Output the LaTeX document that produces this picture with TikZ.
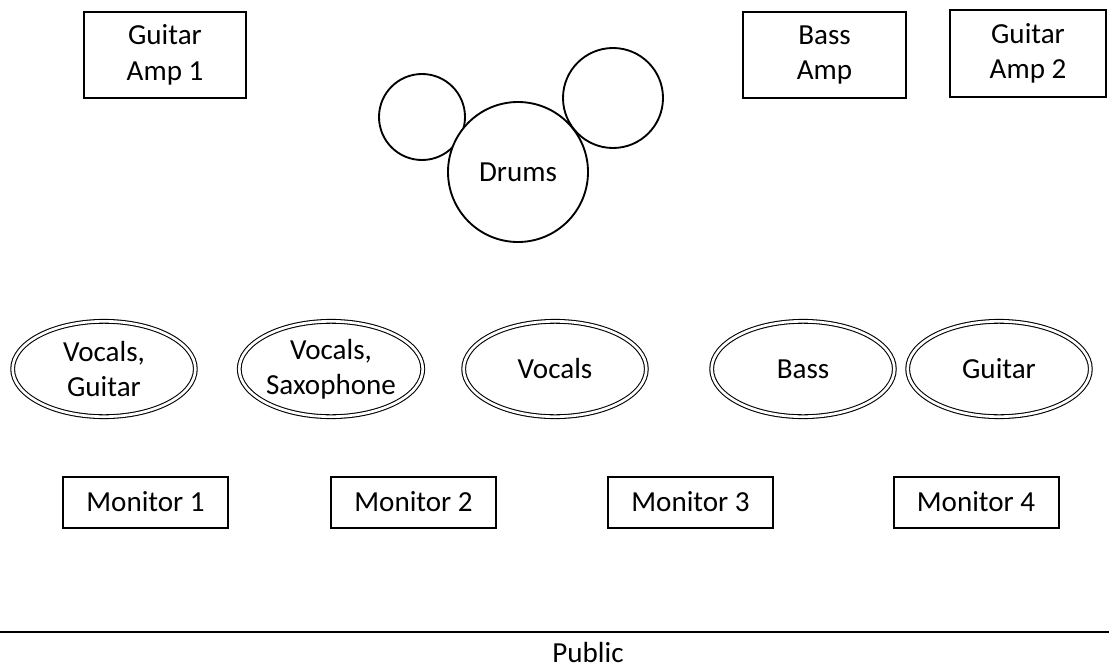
\documentclass[tikz,border=0pt]{standalone}
\usepackage{fontspec}
\setmainfont{Carlito}
\usetikzlibrary{shapes}
\tikzset{
  every node/.style={font=\fontsize{21.8}{26.5}\selectfont, align=center, inner sep=0},
  ampbox/.style={draw, line width=1.5pt, minimum height=64.5pt},
  monbox/.style={draw, line width=1.5pt, minimum width=123.75pt, minimum height=38.25pt},
  player/.style={ellipse, draw, line width=0.8pt, double, double distance=2pt,
    minimum width=137pt, minimum height=71.5pt},
  drum/.style={circle, draw, line width=1.4pt, fill=white}
}
\begin{document}
\begin{tikzpicture}[x=0.75pt, y=-0.75pt]
  \useasboundingbox (0,0) rectangle (1109,671);
  % amps
  \node[ampbox, minimum width=121.5pt] (ampone) at (165,55) {Guitar\\Amp 1};
  \node[ampbox, minimum width=122.25pt] (bassamp) at (824.5,55) {Bass\\Amp};
  \node[ampbox, minimum width=117pt, minimum height=65.25pt] (amptwo) at (1028,53.5) {Guitar\\Amp 2};
  % drum kit
  \node[drum, minimum size=64.5pt] (cymleft) at (422,117) {};
  \node[drum, minimum size=75pt] (cymright) at (613,98) {};
  \node[drum, minimum size=105pt] (drums) at (518,172) {Drums};
  % front line
  \node[player] (vocgtr) at (104,369) {Vocals,\\Guitar};
  \node[player] (vocsax) at (331,369) {Vocals,\\Saxophone};
  \node[player] (vocals) at (555,369) {Vocals};
  \node[player] (bass) at (803,369) {Bass};
  \node[player] (guitar) at (999,369) {Guitar};
  % monitors
  \node[monbox] (monone) at (145.5,502) {Monitor 1};
  \node[monbox] (montwo) at (413.5,502) {Monitor 2};
  \node[monbox] (monthree) at (690.5,502) {Monitor 3};
  \node[monbox] (monfour) at (976,502) {Monitor 4};
  % stage edge
  \coordinate (edgeleft) at (0,632);
  \coordinate (edgeright) at (1109,632);
  \draw[line width=1.5pt] (edgeleft) -- (edgeright);
  \node[anchor=base, text depth=0pt] (public) at (588,662) {Public};
\end{tikzpicture}
\end{document}
